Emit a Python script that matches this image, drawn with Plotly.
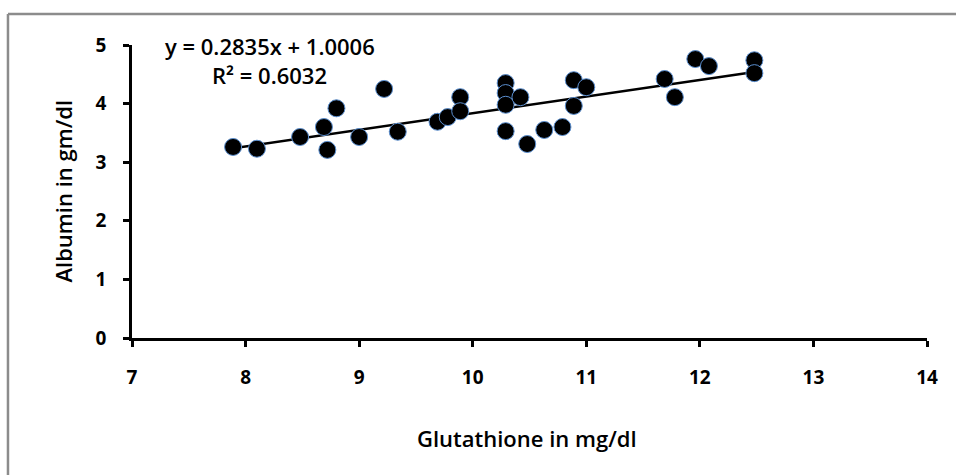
import numpy as np
import plotly.graph_objects as go

glutathione = [7.89, 8.10, 8.48, 8.69, 8.72, 8.80, 9.00, 9.22, 9.34, 9.69,
               9.78, 9.89, 9.89, 10.29, 10.29, 10.29, 10.29, 10.42, 10.48, 10.63,
               10.79, 10.89, 10.89, 11.00, 11.69, 11.78, 11.96, 12.08, 12.48, 12.48]
albumin = [3.26, 3.23, 3.43, 3.60, 3.21, 3.92, 3.43, 4.25, 3.52, 3.69,
           3.77, 4.11, 3.87, 4.35, 4.18, 3.98, 3.53, 4.11, 3.31, 3.55,
           3.60, 4.40, 3.96, 4.28, 4.42, 4.11, 4.76, 4.64, 4.74, 4.52]

slope = 0.2835
intercept = 1.0006
r_squared = 0.6032

x_ticks = [7, 8, 9, 10, 11, 12, 13, 14]
y_ticks = [0, 1, 2, 3, 4, 5]

FONT = "Open Sans"

fit_x = np.array([min(glutathione), max(glutathione)])
fit_y = slope * fit_x + intercept

fig = go.Figure()
fig.add_trace(go.Scatter(
    x=fit_x, y=fit_y, mode="lines",
    line=dict(color="black", width=2.5), showlegend=False, hoverinfo="skip"))
fig.add_trace(go.Scatter(
    x=glutathione, y=albumin, mode="markers",
    marker=dict(size=17, color="black", line=dict(color="#5b8fd0", width=1)),
    showlegend=False))

axis_common = dict(
    showgrid=False, zeroline=False, showline=True, linecolor="black", linewidth=2.5,
    ticks="outside", tickcolor="black", tickwidth=2.5, ticklen=6,
    tickfont=dict(family=FONT, size=19, color="black", weight="bold"),
)

fig.update_layout(
    width=956, height=475,
    margin=dict(l=132, r=29, t=45, b=137),
    paper_bgcolor="white", plot_bgcolor="white",
    xaxis=dict(range=[7, 14], tickvals=x_ticks, ticklabelstandoff=14, **axis_common),
    yaxis=dict(range=[0, 5], tickvals=y_ticks, ticklabelstandoff=13, **axis_common),
    annotations=[
        dict(x=8.215, y=4.98, xref="x", yref="y", showarrow=False,
             text=f"y = {slope}x + {intercept}",
             font=dict(family=FONT, size=22, color="black", weight=600)),
        dict(x=8.215, y=4.49, xref="x", yref="y", showarrow=False,
             text=f"R² = {r_squared}",
             font=dict(family=FONT, size=22, color="black", weight=600)),
        dict(x=0.497, y=-0.341, xref="paper", yref="paper", showarrow=False,
             text="Glutathione in mg/dl", xanchor="center", yanchor="middle",
             font=dict(family=FONT, size=22, color="black", weight=600)),
        dict(x=-0.088, y=0.5, xref="paper", yref="paper", showarrow=False,
             text="Albumin in gm/dl", textangle=-90, xanchor="center", yanchor="middle",
             font=dict(family=FONT, size=22, color="black", weight=600)),
    ],
    shapes=[
        dict(type="line", xref="paper", yref="paper",
             x0=-0.156, y0=1.106, x1=1.05, y1=1.106,
             line=dict(color="#8c8c8c", width=2.5), layer="below"),
        dict(type="line", xref="paper", yref="paper",
             x0=-0.156, y0=1.106, x1=-0.156, y1=-0.5,
             line=dict(color="#8c8c8c", width=2.5), layer="below"),
    ],
)

fig.write_html(
    "out.html",
    config={"displayModeBar": False},
    post_script="document.body.style.margin='0';document.body.style.overflow='hidden';",
)
